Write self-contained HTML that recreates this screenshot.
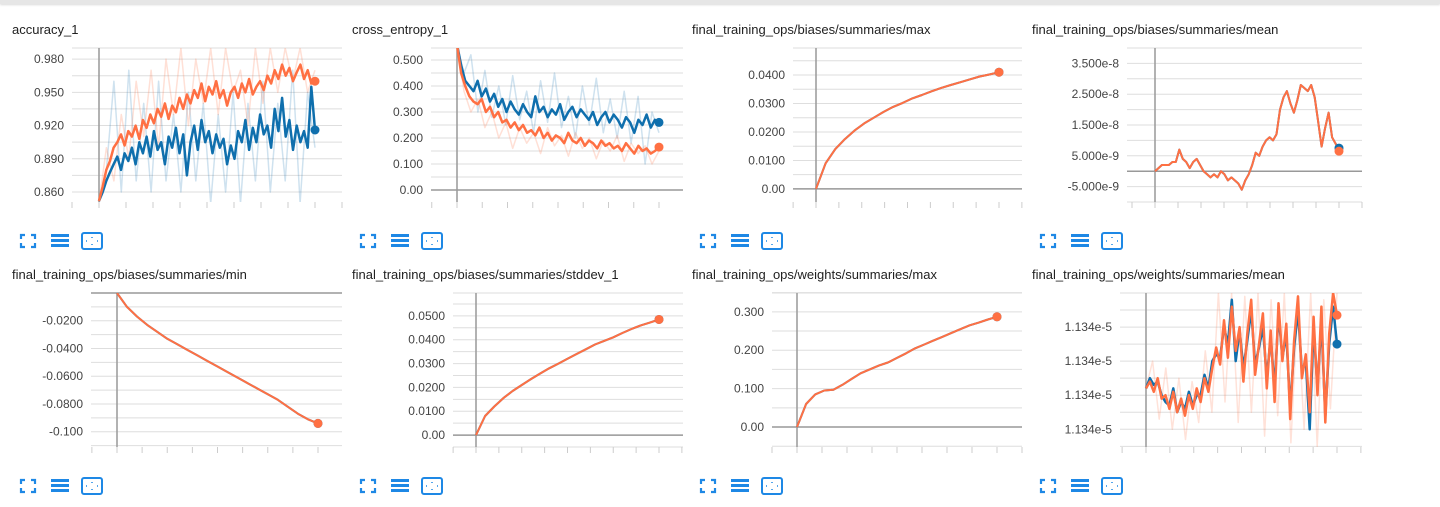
<!DOCTYPE html>
<html><head><meta charset="utf-8">
<style>
html,body{margin:0;padding:0;background:#fff;width:1440px;height:507px;overflow:hidden;font-family:"Liberation Sans",Arial,sans-serif;}
#topbar{position:absolute;left:0;top:0;width:1440px;height:4px;background:#e6e6e6;box-shadow:0 1px 2px rgba(0,0,0,0.15);}
svg{position:absolute;left:0;top:0;}
</style></head>
<body>
<div id="topbar"></div>
<svg id="main" width="1440" height="507"></svg>
<script>
// ---- data arrays ----
const acc_orange=[0.852,0.865,0.880,0.888,0.900,0.905,0.912,0.902,0.915,0.910,0.920,0.908,0.925,0.918,0.930,0.922,0.935,0.928,0.940,0.926,0.938,0.932,0.945,0.935,0.948,0.940,0.952,0.945,0.958,0.942,0.955,0.948,0.960,0.945,0.952,0.938,0.950,0.955,0.945,0.958,0.950,0.962,0.948,0.955,0.960,0.952,0.965,0.958,0.970,0.962,0.975,0.965,0.972,0.960,0.968,0.975,0.962,0.970,0.958,0.960];
const acc_blue=[0.852,0.860,0.870,0.878,0.885,0.892,0.880,0.895,0.888,0.900,0.885,0.905,0.895,0.910,0.892,0.915,0.898,0.905,0.885,0.910,0.900,0.918,0.895,0.912,0.875,0.905,0.920,0.898,0.925,0.905,0.915,0.895,0.912,0.900,0.908,0.885,0.902,0.890,0.915,0.905,0.925,0.898,0.918,0.905,0.930,0.912,0.920,0.900,0.935,0.915,0.945,0.910,0.925,0.898,0.920,0.905,0.915,0.900,0.955,0.916];
const acc_raw_orange=[0.85,0.90,0.87,0.93,0.89,0.96,0.91,0.97,0.90,0.98,0.93,0.99,0.92,0.98,0.94,0.99,0.93,0.99,0.95,0.97,0.92,0.99,0.94,0.99,0.95,0.99,0.96,0.99,0.95,0.97];
const acc_raw_blue=[0.85,0.88,0.96,0.86,0.97,0.87,0.94,0.86,0.96,0.87,0.93,0.86,0.95,0.87,0.94,0.85,0.93,0.86,0.95,0.85,0.94,0.87,0.96,0.86,0.94,0.87,0.97,0.85,0.95,0.90];
const ce_orange=[0.56,0.45,0.40,0.36,0.34,0.33,0.35,0.30,0.32,0.28,0.30,0.26,0.27,0.24,0.26,0.23,0.25,0.22,0.23,0.21,0.24,0.20,0.22,0.19,0.21,0.20,0.18,0.22,0.19,0.18,0.20,0.17,0.19,0.18,0.16,0.19,0.17,0.18,0.16,0.17,0.15,0.18,0.16,0.14,0.17,0.15,0.16,0.14,0.15,0.165];
const ce_blue=[0.56,0.48,0.42,0.40,0.38,0.42,0.36,0.39,0.34,0.37,0.32,0.35,0.30,0.34,0.31,0.29,0.33,0.30,0.28,0.36,0.30,0.32,0.28,0.31,0.29,0.33,0.27,0.30,0.32,0.28,0.31,0.29,0.27,0.30,0.25,0.28,0.30,0.26,0.29,0.27,0.24,0.28,0.26,0.22,0.27,0.25,0.29,0.24,0.27,0.26];
const ce_raw_orange=[0.56,0.38,0.30,0.35,0.24,0.30,0.20,0.26,0.16,0.24,0.18,0.22,0.14,0.24,0.17,0.21,0.13,0.22,0.16,0.20,0.12,0.19,0.15,0.21,0.11,0.18,0.14,0.17,0.10,0.15];
const ce_raw_blue=[0.56,0.45,0.52,0.30,0.46,0.28,0.40,0.25,0.44,0.27,0.38,0.22,0.42,0.26,0.45,0.24,0.36,0.20,0.40,0.25,0.43,0.22,0.35,0.20,0.38,0.18,0.36,0.10,0.30,0.22];
const bmax_vals=[0.000,0.009,0.014,0.0175,0.0205,0.023,0.025,0.027,0.0288,0.0302,0.0318,0.033,0.0343,0.0355,0.0365,0.0375,0.0385,0.0395,0.0402,0.041];
const bmean_orange=[0,1,2,2,2,3,3,7,4,3,1,3,4,2,0,-1,-2,-1,-2,0,-1,-3,-2,-3,-4,-6,-3,-1,2,6,5,8,10,11,10,12,20,24,26,22,19,23,28,27,26,28,24,16,8,14,19,11,9,6.5];
const bmean_blue=[0,1,2,2,2,3,3,7,4,3,1,3,4,2,0,-1,-2,-1,-2,0,-1,-3,-2,-3,-4,-6,-3,-1,2,6,5,8,10,11,10,12,20,24,26,22,19,23,28,27,26,28,24,16,8,14,19,11,9,7.5];
const bmin_vals=[0,-0.010,-0.017,-0.023,-0.028,-0.033,-0.037,-0.041,-0.045,-0.049,-0.053,-0.057,-0.061,-0.065,-0.069,-0.073,-0.077,-0.082,-0.087,-0.091,-0.094];
const bstd_vals=[0,0.008,0.012,0.0155,0.0185,0.021,0.0235,0.0258,0.028,0.030,0.032,0.034,0.036,0.038,0.0395,0.041,0.0428,0.0445,0.046,0.0472,0.0485];
const wmax_vals=[0,0.06,0.085,0.095,0.097,0.11,0.125,0.14,0.15,0.16,0.168,0.18,0.192,0.205,0.215,0.225,0.235,0.245,0.255,0.265,0.272,0.28,0.287];
const wmean_orange=[1.2,1.4,1.1,1.5,0.9,1.0,0.6,1.1,0.5,0.9,0.4,1.0,0.6,1.2,0.8,1.5,1.1,1.8,2.4,1.9,3.2,2.1,3.6,2.3,3.0,1.4,2.8,3.8,1.6,2.5,3.4,1.2,2.9,0.8,3.7,2.0,3.1,0.3,2.6,3.9,1.5,2.2,0.5,3.3,1.0,3.6,0.2,2.8,4.0,3.35];
const wmean_blue=[1.2,1.5,1.3,1.4,1.0,0.8,0.7,1.2,0.5,0.8,0.6,1.1,0.7,1.0,1.0,1.6,1.2,2.0,2.2,2.1,3.0,2.5,3.8,2.0,2.9,1.8,2.6,3.5,1.9,2.4,3.0,1.5,2.7,1.2,3.4,2.1,2.8,0.6,2.4,3.5,1.7,2.0,0.0,3.0,1.2,3.2,0.4,2.5,3.6,2.5];
const wmean_raw_orange=[1.2,2.0,0.3,1.8,0.0,1.5,-0.3,1.4,0.2,2.3,0.5,4.0,0.8,4.0,0.2,3.9,0.5,4.0,-0.2,3.8,0.4,4.0,-0.4,3.5,0.0,4.0,-0.5,3.8,0.6,4.0];
// tick arrays
const acc_ticks=[0.86,0.89,0.92,0.95,0.98];
const acc_labels=["0.860","0.890","0.920","0.950","0.980"];
const ce_ticks=[0,0.1,0.2,0.3,0.4,0.5];
const ce_labels=["0.00","0.100","0.200","0.300","0.400","0.500"];
const bmax_ticks=[0,0.01,0.02,0.03,0.04];
const bmax_labels=["0.00","0.0100","0.0200","0.0300","0.0400"];
const bmean_ticks=[-5,5,15,25,35];
const bmean_labels=["-5.000e-9","5.000e-9","1.500e-8","2.500e-8","3.500e-8"];
const bmin_ticks=[-0.1,-0.08,-0.06,-0.04,-0.02];
const bmin_labels=["-0.100","-0.0800","-0.0600","-0.0400","-0.0200"];
const bstd_ticks=[0,0.01,0.02,0.03,0.04,0.05];
const bstd_labels=["0.00","0.0100","0.0200","0.0300","0.0400","0.0500"];
const wmax_ticks=[0,0.1,0.2,0.3];
const wmax_labels=["0.00","0.100","0.200","0.300"];
const wmean_ticks=[0,1,2,3];
const wmean_labels=["1.134e-5","1.134e-5","1.134e-5","1.134e-5"];

const ORANGE="#ff7043", BLUE="#0f6fad";
const charts=[
 {name:"accuracy-chart",title:"accuracy_1",px:0,py:0,left:72,axis:99,end:315,right:342,dom:[0.851,0.990],ticks:acc_ticks,labels:acc_labels,
  series:[{d:acc_raw_blue,c:"rgba(15,111,173,0.2)",w:1.5},{d:acc_raw_orange,c:"rgba(255,112,67,0.22)",w:1.5},{d:acc_blue,c:BLUE,w:2.5,dot:1},{d:acc_orange,c:ORANGE,w:2.5,dot:1}]},
 {name:"cross-entropy-chart",title:"cross_entropy_1",px:340,py:0,left:431,axis:457,end:659,right:683,dom:[-0.046,0.546],ticks:ce_ticks,labels:ce_labels,
  series:[{d:ce_raw_blue,c:"rgba(15,111,173,0.2)",w:1.5},{d:ce_raw_orange,c:"rgba(255,112,67,0.22)",w:1.5},{d:ce_blue,c:BLUE,w:2.5,dot:1},{d:ce_orange,c:ORANGE,w:2.5,dot:1}]},
 {name:"biases-max-chart",title:"final_training_ops/biases/summaries/max",px:680,py:0,left:793,axis:816,end:999,right:1022,dom:[-0.0046,0.0495],ticks:bmax_ticks,labels:bmax_labels,
  series:[{d:bmax_vals,c:BLUE,w:2,dot:1},{d:bmax_vals,c:ORANGE,w:2,dot:1}]},
 {name:"biases-mean-chart",title:"final_training_ops/biases/summaries/mean",px:1020,py:0,left:1127,axis:1155,end:1339,right:1362,dom:[-10,40],ticks:bmean_ticks,labels:bmean_labels,
  series:[{d:bmean_blue,c:BLUE,w:2,dot:1},{d:bmean_orange,c:ORANGE,w:2,dot:1}]},
 {name:"biases-min-chart",title:"final_training_ops/biases/summaries/min",px:0,py:245,left:91,axis:117,end:318,right:342,dom:[-0.111,0.0],ticks:bmin_ticks,labels:bmin_labels,
  series:[{d:bmin_vals,c:BLUE,w:2,dot:1},{d:bmin_vals,c:ORANGE,w:2,dot:1}]},
 {name:"biases-stddev-chart",title:"final_training_ops/biases/summaries/stddev_1",px:340,py:245,left:453,axis:476,end:659,right:683,dom:[-0.005,0.0596],ticks:bstd_ticks,labels:bstd_labels,
  series:[{d:bstd_vals,c:BLUE,w:2,dot:1},{d:bstd_vals,c:ORANGE,w:2,dot:1}]},
 {name:"weights-max-chart",title:"final_training_ops/weights/summaries/max",px:680,py:245,left:772,axis:797,end:997,right:1022,dom:[-0.052,0.349],ticks:wmax_ticks,labels:wmax_labels,
  series:[{d:wmax_vals,c:BLUE,w:2,dot:1},{d:wmax_vals,c:ORANGE,w:2,dot:1}]},
 {name:"weights-mean-chart",title:"final_training_ops/weights/summaries/mean",px:1020,py:245,left:1120,axis:1146,end:1337,right:1362,dom:[-0.52,4.0],ticks:wmean_ticks,labels:wmean_labels,noZero:1,
  series:[{d:wmean_raw_orange,c:"rgba(255,112,67,0.2)",w:1.5},{d:wmean_blue,c:BLUE,w:2.5,dot:1},{d:wmean_orange,c:ORANGE,w:2.5,dot:1}]}
];
const NS="http://www.w3.org/2000/svg";
const svg=document.getElementById("main");
function mk(tag,attrs,parent){const e=document.createElementNS(NS,tag);for(const k in attrs)e.setAttribute(k,attrs[k]);parent.appendChild(e);return e;}
const defs=mk("defs",{},svg);
charts.forEach((c,ci)=>{
  const top=48+c.py, bot=202+c.py;
  const g=mk("g",{},svg);
  
  
  const yS=v=>bot-(v-c.dom[0])/(c.dom[1]-c.dom[0])*(bot-top);
  const xS=(i,n)=>c.axis+(i/(n-1))*(c.end-c.axis);
  const t=mk("text",{x:c.px+12,y:34+c.py,"font-size":"13","fill":"#212121"},g);
  t.textContent=c.title;
  
  
  const step=c.ticks[1]-c.ticks[0];
  for(let v=c.ticks[0]-step*4; v<=c.dom[1]+step; v+=step/2){
    const y=yS(v); if(y<top-0.5||y>bot) continue;
    const gl=mk("line",{x1:c.left,x2:c.right,y1:y,y2:y,stroke:"#dedede","stroke-width":1},g);
    
    
  }
  mk("line",{x1:c.left,x2:c.right,y1:top,y2:top,stroke:"#dedede"},g);
  if(!c.noZero&&c.dom[0]<=0&&c.dom[1]>=0){
    const z=mk("line",{x1:c.left,x2:c.right,y1:yS(0),y2:yS(0),stroke:"#999","stroke-width":1.5},g);
    
    
  }
  const ax=mk("line",{x1:c.axis,x2:c.axis,y1:top,y2:bot,stroke:"#999","stroke-width":1.5},g);
  
  
  const xs=(c.end-c.axis)/8;
  for(let x=c.axis-Math.floor((c.axis-c.left)/xs)*xs; x<=c.right+0.5; x+=xs){
    const tk=mk("line",{x1:x,x2:x,y1:bot,y2:bot+6,stroke:"#ccc"},g);
    
    
  }
  c.ticks.forEach((v,i)=>{
    const tl=mk("text",{x:c.left-8,y:yS(v)+4,"font-size":"12","fill":"#444","text-anchor":"end"},g);
    tl.textContent=c.labels[i];
    
    
  });
  const cp=mk("clipPath",{id:"cp"+ci},defs);
  mk("rect",{x:c.left,y:top,width:c.right-c.left,height:bot-top},cp);
  const sg=mk("g",{"clip-path":"url(#cp"+ci+")"},g);
  c.series.forEach(s=>{
    const n=s.d.length;
    const pts=s.d.map((v,i)=>xS(i,n).toFixed(1)+","+yS(v).toFixed(1)).join(" ");
    const pl=mk("polyline",{points:pts,fill:"none",stroke:s.c,"stroke-width":s.w,"stroke-linejoin":"round"},sg);
    
    
    if(s.dot){
      const d=mk("circle",{cx:xS(n-1,n),cy:yS(s.d[n-1]),r:4.5,fill:s.c},g);
      
      
    }
  });
  const iy=233+c.py, ix=c.px;
  const b="#1e88e5";
  const fs=mk("g",{},g);
  
  
  mk("path",{d:`M${ix+21} ${iy+6}v-4h4 M${ix+31} ${iy+2}h4v4 M${ix+35} ${iy+10}v4h-4 M${ix+25} ${iy+14}h-4v-4`,stroke:b,"stroke-width":2.2,fill:"none"},fs);
  const ls=mk("g",{},g);
  
  
  [1,6,11].forEach(o=>mk("rect",{x:ix+51,y:iy+o,width:18,height:3,fill:b},ls));
  const ft=mk("g",{},g);
  
  
  mk("rect",{x:ix+82,y:iy,width:20,height:16,rx:2,fill:"none",stroke:b,"stroke-width":2},ft);
  mk("path",{d:`M${ix+92} ${iy+4}v1 M${ix+92} ${iy+11}v1 M${ix+86} ${iy+8}h1 M${ix+97} ${iy+8}h1`,stroke:b,"stroke-width":1.5},ft);
});
</script>
</body></html>
